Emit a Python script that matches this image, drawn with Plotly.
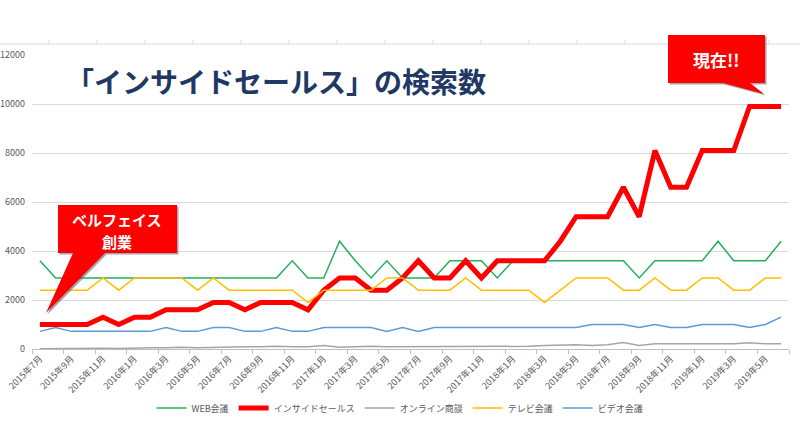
import plotly.graph_objects as go

months = []
y, m = 2015, 7
for _ in range(48):
    months.append(f"{y}年{m}月")
    m += 1
    if m > 12:
        m = 1
        y += 1

web = [3600, 2900, 2900, 2900, 2900, 2900, 2900, 2900, 2900, 2900, 2900, 2900,
       2900, 2900, 2900, 2900, 3600, 2900, 2900, 4400, 3600, 2900, 3600, 2900,
       2900, 2900, 3600, 3600, 3600, 2900, 3600, 3600, 3600, 3600, 3600, 3600,
       3600, 3600, 2900, 3600, 3600, 3600, 3600, 4400, 3600, 3600, 3600, 4400]
inside = [1000, 1000, 1000, 1000, 1300, 1000, 1300, 1300, 1600, 1600, 1600, 1900,
          1900, 1600, 1900, 1900, 1900, 1600, 2400, 2900, 2900, 2400, 2400, 2900,
          3600, 2900, 2900, 3600, 2900, 3600, 3600, 3600, 3600, 4400, 5400, 5400,
          5400, 6600, 5400, 8100, 6600, 6600, 8100, 8100, 8100, 9900, 9900, 9900]
online = [10, 20, 20, 30, 30, 20, 50, 50, 50, 70, 50, 70,
          90, 90, 90, 110, 90, 90, 140, 70, 90, 110, 90, 90,
          90, 90, 90, 90, 90, 90, 110, 110, 140, 170, 170, 140,
          170, 260, 140, 210, 210, 210, 210, 210, 210, 260, 210, 210]
tv = [2400, 2400, 2400, 2400, 2900, 2400, 2900, 2900, 2900, 2900, 2400, 2900,
      2400, 2400, 2400, 2400, 2400, 1900, 2400, 2400, 2400, 2400, 2900, 2900,
      2400, 2400, 2400, 2900, 2400, 2400, 2400, 2400, 1900, 2400, 2900, 2900,
      2900, 2400, 2400, 2900, 2400, 2400, 2900, 2900, 2400, 2400, 2900, 2900]
video = [720, 880, 720, 720, 720, 720, 720, 720, 880, 720, 720, 880,
         880, 720, 720, 880, 720, 720, 880, 880, 880, 880, 720, 880,
         720, 880, 880, 880, 880, 880, 880, 880, 880, 880, 880, 1000,
         1000, 1000, 880, 1000, 880, 880, 1000, 1000, 1000, 880, 1000, 1300]

series = [
    ("WEB会議", web, "#23B05A", 1.5),
    ("インサイドセールス", inside, "#FF0000", 5),
    ("オンライン商談", online, "#A5A5A5", 1.5),
    ("テレビ会議", tv, "#FFC000", 1.5),
    ("ビデオ会議", video, "#5B9BD5", 1.5),
]

FONT = "Noto Sans CJK JP"
fig = go.Figure()
for name, vals, col, w in series:
    fig.add_trace(go.Scatter(x=months, y=vals, name=name, mode="lines",
                             line=dict(color=col, width=w)))

# pixel -> paper helpers
L, R, T, B = 32, 789, 55, 349
def px(x):
    return (x - L) / (R - L)
def py(y):
    return (B - y) / (B - T)

shapes = []
# top strip line with ticks
shapes.append(dict(type="line", xref="paper", yref="paper", x0=px(0), x1=px(800),
                   y0=py(44), y1=py(44), line=dict(color="#D9D9D9", width=1)))
for k in range(16):
    xx = 49 + 48 * k
    shapes.append(dict(type="line", xref="paper", yref="paper", x0=px(xx), x1=px(xx),
                       y0=py(44), y1=py(40), line=dict(color="#D9D9D9", width=1)))

def poly(points):
    d = "M " + " L ".join(f"{px(a):.5f},{py(b):.5f}" for a, b in points) + " Z"
    return d

c1 = [(58, 205), (177, 205), (177, 253), (105, 253), (46, 313), (73, 253), (58, 253)]
c2 = [(668, 35), (765, 35), (765, 83), (750, 83), (764, 94), (723, 83), (668, 83)]
for c in (c1, c2):
    sh = [(a + 1.5, b + 1.5) for a, b in c]
    shapes.append(dict(type="path", xref="paper", yref="paper", path=poly(sh),
                       fillcolor="rgba(90,90,110,0.55)", line=dict(width=0)))
    shapes.append(dict(type="path", xref="paper", yref="paper", path=poly(c),
                       fillcolor="#FF0000", line=dict(width=0)))

annotations = [
    dict(text="<b>「インサイドセールス」の検索数</b>", xref="paper", yref="paper",
         x=px(64), y=py(81), xanchor="left", yanchor="middle", showarrow=False,
         font=dict(family=FONT, size=28, color="#203864")),
    dict(text="<b>ベルフェイス</b>", xref="paper", yref="paper",
         x=px(117), y=py(219), xanchor="center", yanchor="middle", showarrow=False,
         font=dict(family=FONT, size=15, color="white")),
    dict(text="<b>創業</b>", xref="paper", yref="paper",
         x=px(117), y=py(241), xanchor="center", yanchor="middle", showarrow=False,
         font=dict(family=FONT, size=15, color="white")),
    dict(text="<b>現在!!</b>", xref="paper", yref="paper",
         x=px(716), y=py(59), xanchor="center", yanchor="middle", showarrow=False,
         font=dict(family=FONT, size=17, color="white")),
]

fig.update_layout(
    width=800, height=441,
    margin=dict(l=L, r=800 - R, t=T, b=441 - B, autoexpand=False),
    paper_bgcolor="white", plot_bgcolor="white",
    font=dict(family=FONT, size=9, color="#595959"),
    showlegend=True,
    legend=dict(orientation="h", xref="container", yref="container",
                x=0.5, y=1 - 408 / 441, xanchor="center", yanchor="middle",
                font=dict(family=FONT, size=9, color="#595959"),
                itemwidth=30, tracegroupgap=0),
    shapes=shapes,
    annotations=annotations,
    xaxis=dict(type="category", range=[-0.5, 47.5], tickmode="linear", tick0=0, dtick=2,
               tickangle=-45, tickson="boundaries", ticks="outside", ticklen=4,
               tickcolor="#BFBFBF", showline=True, linecolor="#BFBFBF", showgrid=False,
               automargin=False,
               tickfont=dict(family=FONT, size=9, color="#595959")),
    yaxis=dict(range=[0, 12000], dtick=2000, tickformat="d", showgrid=True,
               gridcolor="#D9D9D9", automargin=False,
               zeroline=False, showline=False, ticks="", ticklabelstandoff=6,
               tickfont=dict(family=FONT, size=9, color="#595959")),
)

fig.write_html("out.html", config={"displayModeBar": False},
               post_script="document.body.style.margin='0';document.body.style.padding='0';")
